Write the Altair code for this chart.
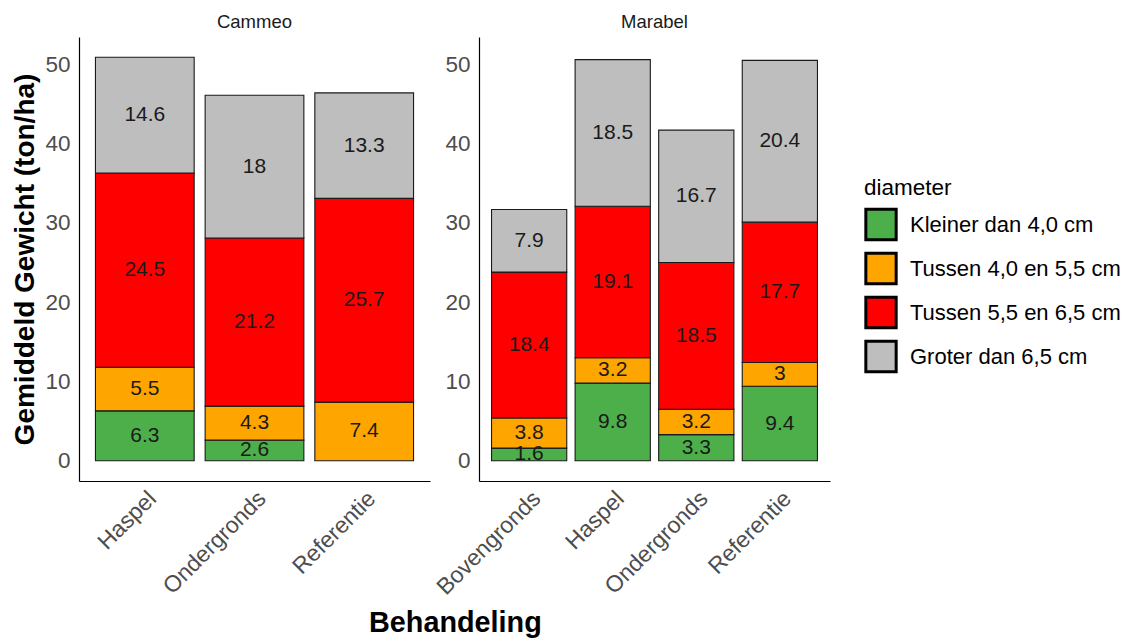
import altair as alt
import pandas as pd

variety = ["Cammeo", "Cammeo", "Cammeo", "Marabel", "Marabel", "Marabel", "Marabel"]
behandeling = ["Haspel", "Ondergronds", "Referentie", "Bovengronds", "Haspel", "Ondergronds", "Referentie"]
kleiner_40 = [6.3, 2.6, None, 1.6, 9.8, 3.3, 9.4]
tussen_40_55 = [5.5, 4.3, 7.4, 3.8, 3.2, 3.2, 3.0]
tussen_55_65 = [24.5, 21.2, 25.7, 18.4, 19.1, 18.5, 17.7]
groter_65 = [14.6, 18.0, 13.3, 7.9, 18.5, 16.7, 20.4]

classes = ["Kleiner dan 4,0 cm", "Tussen 4,0 en 5,5 cm", "Tussen 5,5 en 6,5 cm", "Groter dan 6,5 cm"]
colors = ["#4DAF4A", "#FFA500", "#FF0000", "#BEBEBE"]
series = [kleiner_40, tussen_40_55, tussen_55_65, groter_65]

rows = []
for i in range(len(variety)):
    base = 0.0
    for k, cls in enumerate(classes):
        v = series[k][i]
        if v is None:
            continue
        rows.append({
            "ras": variety[i],
            "Behandeling": behandeling[i],
            "diameter": cls,
            "ordre": k,
            "gewicht": v,
            "y0": base,
            "y1": base + v,
            "ymid": base + v / 2,
        })
        base += v
df = pd.DataFrame(rows)

FONT = "Liberation Sans"
ydomain = [-2.55, 53.45]


def panel(name, show_title):
    d = df[df["ras"] == name]
    cats = [b for r, b in zip(variety, behandeling) if r == name]
    xenc = alt.X(
        "Behandeling:N",
        sort=cats,
        scale=alt.Scale(paddingInner=0.1, paddingOuter=0.15),
        axis=alt.Axis(
            title=None, labelAngle=315, labelFontSize=23, labelColor="#4D4D4D",
            labelFont=FONT, ticks=False, domainColor="#000000", domainWidth=1.2,
            labelPadding=6, grid=False, labelLimit=0,
        ),
    )
    yaxis = alt.Axis(
        title="Gemiddeld Gewicht (ton/ha)" if show_title else None,
        titleFontSize=28, titleFontWeight="bold", titleFont=FONT, titleColor="#000000",
        labelFontSize=22.5, labelColor="#4D4D4D", labelFont=FONT, ticks=False,
        values=[0, 10, 20, 30, 40, 50], domainColor="#000000", domainWidth=1.2,
        grid=False, labelPadding=9, titlePadding=5,
    )
    bars = alt.Chart(d).mark_bar(stroke="#1A1A1A", strokeWidth=1.1).encode(
        x=xenc,
        y=alt.Y("y0:Q", scale=alt.Scale(domain=ydomain, nice=False, zero=False), axis=yaxis),
        y2="y1:Q",
        color=alt.Color(
            "diameter:N",
            scale=alt.Scale(domain=classes, range=colors),
            legend=alt.Legend(
                title="diameter", titleFontSize=22.5, titleFontWeight="normal", titleFont=FONT,
                titleColor="#000000", labelFontSize=22, labelFont=FONT, labelColor="#000000",
                labelLimit=0, labelOffset=12,
                symbolType="square", symbolSize=920, symbolStrokeColor="#000000",
                symbolStrokeWidth=3, symbolOpacity=1, rowPadding=0, titlePadding=8,
                orient="none", legendX=785, legendY=140,
            ),
        ),
        order=alt.Order("ordre:Q"),
    )
    labels = alt.Chart(d).mark_text(fontSize=21, font=FONT, color="#1A1A1A").encode(
        x=xenc,
        y=alt.Y("ymid:Q", scale=alt.Scale(domain=ydomain, nice=False, zero=False)),
        text=alt.Text("gewicht:Q", format=".1~f"),
    )
    return alt.layer(bars, labels).properties(
        width=351, height=444,
        title=alt.TitleParams(name, fontSize=18.5, fontWeight="normal", font=FONT,
                              color="#1A1A1A", anchor="middle", offset=6),
    )


chart = alt.hconcat(panel("Cammeo", True), panel("Marabel", False), spacing=2).properties(
    title=alt.TitleParams("Behandeling", orient="bottom", anchor="start", fontSize=28.8,
                          fontWeight="bold", font=FONT, color="#000000", dx=357, offset=10),
    padding={"left": 3, "top": 4, "right": 0, "bottom": 0},
).configure_view(strokeWidth=0)

chart.save("out.html", embed_options={"renderer": "svg", "actions": False})
